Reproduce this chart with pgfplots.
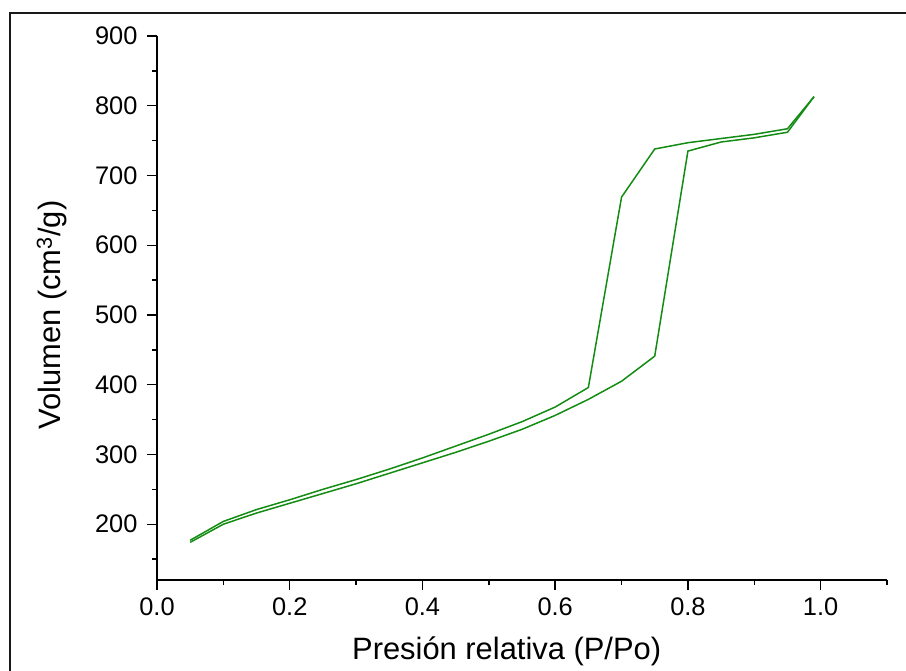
\documentclass[border=0pt]{standalone}
\usepackage{pgfplots}
\pgfplotsset{compat=1.18}
\usepackage{fontspec}
\setmainfont{Liberation Sans}
\definecolor{ogreen}{RGB}{20,140,20}
\begin{document}
\begin{tikzpicture}
\path[use as bounding box] (0bp,0bp) rectangle (906bp,671bp);
\draw[line width=2bp, black!90] (10bp,0bp) -- (10bp,658bp) -- (906bp,658bp);
\begin{axis}[
  at={(157bp,91bp)}, anchor=south west,
  scale only axis, width=730bp, height=544bp,
  xmin=0, xmax=1.1, ymin=120, ymax=900,
  axis x line*=bottom, axis y line*=left,
  axis line style={line width=1.4bp, black},
  xtick={0,0.2,0.4,0.6,0.8,1.0},
  minor xtick={0.1,0.3,0.5,0.7,0.9,1.1},
  ytick={200,300,400,500,600,700,800,900},
  minor ytick={150,250,350,450,550,650,750,850},
  tick align=outside,
  major tick length=10bp, minor tick length=5bp,
  every tick/.style={line width=1.4bp, black},
  /pgf/number format/assume math mode=true,
  ticklabel style={font=\fontsize{25.5}{27}\selectfont},
  xticklabel style={yshift=-4bp, /pgf/number format/.cd, fixed, fixed zerofill, precision=1},
  yticklabel style={xshift=-6bp},
  label style={font=\fontsize{31}{33}\selectfont},
  xlabel={Presión relativa (P/Po)},
  ylabel={Volumen (cm\textsuperscript{3}/g)},
  xlabel style={at={(axis description cs:0.479,-0.1305)}, anchor=center},
  ylabel style={at={(axis description cs:-0.1438,0.487)}, anchor=center},
  clip=false,
]
% adsorption branch
\addplot[color=ogreen, line width=1.5bp, no markers] coordinates {
(0.05,174) (0.10,200) (0.15,216) (0.20,230) (0.25,244) (0.30,258)
(0.35,273) (0.40,288) (0.45,303) (0.50,319) (0.55,336) (0.60,356)
(0.65,379) (0.70,405) (0.75,441) (0.80,735) (0.85,748) (0.90,754)
(0.95,762) (0.99,813)
};
% desorption branch
\addplot[color=ogreen, line width=1.5bp, no markers] coordinates {
(0.99,813) (0.95,767) (0.90,759) (0.85,753) (0.80,747) (0.75,738)
(0.70,669) (0.65,396) (0.60,368) (0.55,347) (0.50,329) (0.45,312)
(0.40,295) (0.35,279) (0.30,264) (0.25,250) (0.20,235) (0.15,221)
(0.10,204) (0.05,177)
};
\end{axis}
\end{tikzpicture}
\end{document}
